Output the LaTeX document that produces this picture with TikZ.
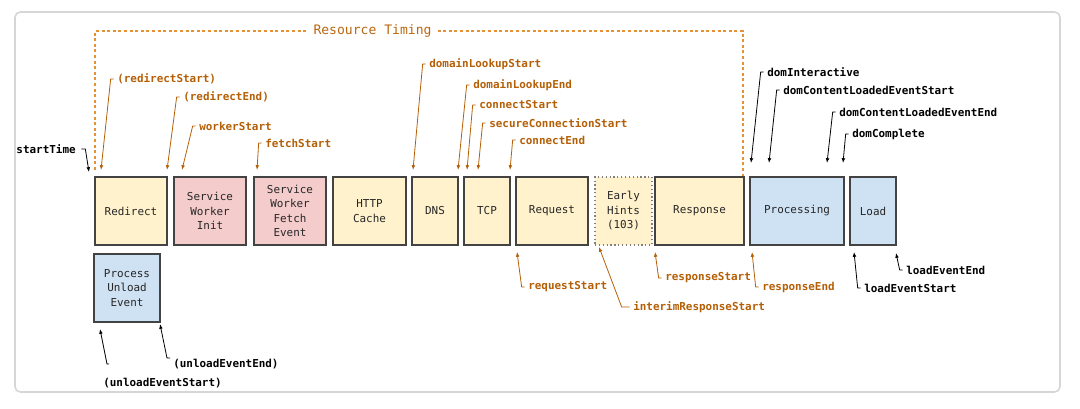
\documentclass[tikz,border=0pt]{standalone}
\usepackage{fontspec}
\newfontfamily\mono{DejaVu Sans Mono}
\usetikzlibrary{arrows.meta}
\definecolor{ylw}{HTML}{FFF2CC}
\definecolor{pnk}{HTML}{F4CCCC}
\definecolor{blu}{HTML}{CFE2F3}
\definecolor{org}{HTML}{B45F06}
\definecolor{orgl}{HTML}{E69138}
\definecolor{bord}{HTML}{434343}
\definecolor{frm}{HTML}{D6D6D6}
\begin{document}
\begin{tikzpicture}[x=0.75pt,y=-0.75pt,
  stage/.style={draw=bord, line width=0.9pt, inner sep=0pt, align=center,
    font=\mono\fontsize{8.2}{10.9}\selectfont, text=black!85, minimum height=51pt},
  lbl/.style={font=\mono\bfseries\fontsize{8.2}{10}\selectfont, inner sep=0pt, anchor=west},
  olbl/.style={lbl, text=org},
  klbl/.style={lbl, text=black},
  oarr/.style={draw=org, line width=0.6pt, -{Latex[length=3.6pt,width=2.8pt]}},
  karr/.style={draw=black, line width=0.6pt, -{Latex[length=3.6pt,width=2.8pt]}},
  rt/.style={draw=orgl, line width=0.8pt, dash pattern=on 2.3pt off 1.9pt}
]
\useasboundingbox (0,0) rectangle (1080,409);
% outer frame
\draw[frm, line width=1.2pt, rounded corners=4pt] (15,12) rectangle (1060,392);

% Resource Timing dashed bracket
\coordinate (rtl) at (95,170);
\coordinate (rtr) at (743,177);
\draw[rt] (rtl) -- (95,31) -- (743,31) -- (rtr);
\node[fill=white, inner sep=4pt, font=\mono\fontsize{9.8}{12}\selectfont, text=org!85!orgl] (rtitle) at (372.5,31) {Resource Timing};

% stages
\node[stage, fill=ylw, minimum width=54pt] (redirect) at (131,211) {Redirect};
\node[stage, fill=pnk, minimum width=54pt] (swinit) at (210,211) {Service\\Worker\\Init};
\node[stage, fill=pnk, minimum width=54pt] (swfetch) at (290,211) {Service\\Worker\\Fetch\\Event};
\node[stage, fill=ylw, minimum width=54.75pt] (http) at (369.5,211) {HTTP\\Cache};
\node[stage, fill=ylw, minimum width=34.5pt] (dns) at (435,211) {DNS};
\node[stage, fill=ylw, minimum width=34.5pt] (tcp) at (487,211) {TCP};
\node[stage, fill=ylw, minimum width=54pt] (request) at (552,211) {Request};
\node[stage, fill=ylw, minimum width=42.75pt, draw=black!50, dotted, line width=1pt] (early) at (623.5,211) {Early\\Hints\\(103)};
\node[stage, fill=ylw, minimum width=66.75pt] (response) at (699.5,211) {Response};
\node[stage, fill=blu, minimum width=70.5pt] (processing) at (797,211) {Processing};
\node[stage, fill=blu, minimum width=34.5pt] (load) at (873,211) {Load};
\node[stage, fill=blu, minimum width=49.5pt] (unload) at (127,288) {Process\\Unload\\Event};

% top orange labels
\node[olbl] (rs) at (117,79) {(redirectStart)};
\node[olbl] (re) at (183,97) {(redirectEnd)};
\node[olbl] (ws) at (199,126) {workerStart};
\node[olbl] (fs) at (265,143) {fetchStart};
\node[olbl] (dls) at (429,64) {domainLookupStart};
\node[olbl] (dle) at (473,85) {domainLookupEnd};
\node[olbl] (cs) at (479,105) {connectStart};
\node[olbl] (scs) at (489,123) {secureConnectionStart};
\node[olbl] (ce) at (519,140) {connectEnd};

\coordinate (trs) at (101,170);
\coordinate (tre) at (167,170);
\coordinate (tws) at (182,170);
\coordinate (tfs) at (257,170);
\coordinate (tdls) at (413,170);
\coordinate (tdle) at (458,170);
\coordinate (tcs) at (467,170);
\coordinate (tscs) at (478,170);
\coordinate (tce) at (510,170);

\foreach \a in {rs,re,ws,fs,dls,dle,cs,scs,ce}
  \draw[oarr] ([xshift=-2.5pt]\a.west) -- ++(-3,0) -- (t\a);

% top black labels
\node[klbl, anchor=east] (st) at (76,149) {startTime};
\coordinate (tst) at (89,172);
\draw[karr] ([xshift=4pt]st.east) -- ++(4,0) -- (tst);

\node[klbl] (di) at (767,72) {domInteractive};
\node[klbl] (dcls) at (783,90) {domContentLoadedEventStart};
\node[klbl] (dcle) at (839,112) {domContentLoadedEventEnd};
\node[klbl] (dc) at (852,134) {domComplete};
\coordinate (tdi) at (751,163);
\coordinate (tdcls) at (769,163);
\coordinate (tdcle) at (827,163);
\coordinate (tdc) at (843,163);
\foreach \a in {di,dcls,dcle,dc}
  \draw[karr] ([xshift=-2.5pt]\a.west) -- ++(-3,0) -- (t\a);

% bottom orange labels
\node[olbl] (rqs) at (528,287) {requestStart};
\node[olbl] (irs) at (633,307) {interimResponseStart};
\node[olbl] (rps) at (665,278) {responseStart};
\node[olbl] (rpe) at (762,287) {responseEnd};
\coordinate (trqs) at (517,252);
\coordinate (tirs) at (599,247);
\coordinate (trps) at (655,252);
\coordinate (trpe) at (752,252);
\foreach \a in {rqs,rps,rpe}
  \draw[oarr] ([xshift=-2.5pt]\a.west) -- ++(-3,0) -- (t\a);
\draw[oarr] ([xshift=-2.5pt]irs.west) -- ++(-8,0) -- (tirs);

% bottom black labels
\node[klbl] (les) at (864,288) {loadEventStart};
\node[klbl] (lee) at (906,270) {loadEventEnd};
\coordinate (tles) at (854,252);
\coordinate (tlee) at (896,253);
\foreach \a in {les,lee}
  \draw[karr] ([xshift=-2.5pt]\a.west) -- ++(-3,0) -- (t\a);

\node[klbl] (uee) at (173,364) {(unloadEventEnd)};
\node[klbl] (ues) at (103,383) {(unloadEventStart)};
\coordinate (tuee) at (160,324);
\coordinate (tues) at (100,329);
\coordinate (hues) at (109,364);
\draw[karr] ([shift={(-3,-6)}]uee.west) -- ++(-3,0) -- (tuee);
\draw[karr] (hues) -- ++(-2,0) -- (tues);
\end{tikzpicture}
\end{document}
